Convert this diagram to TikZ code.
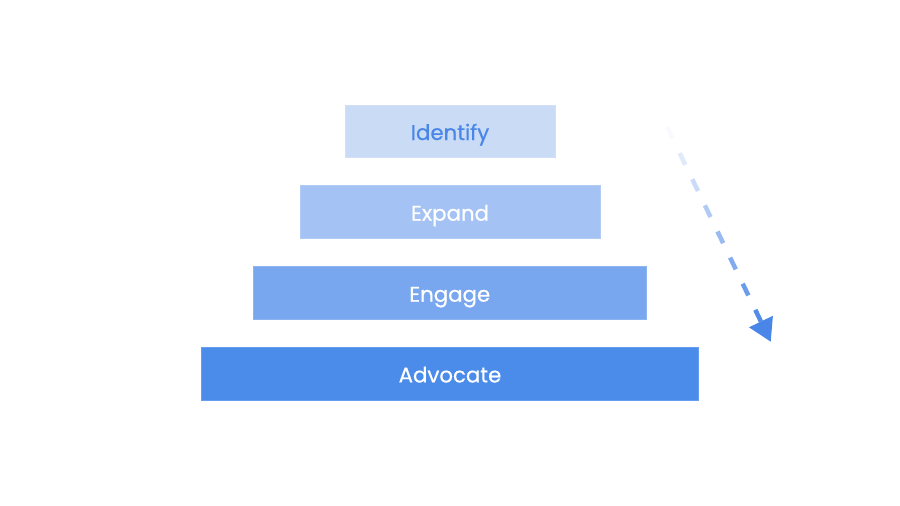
\documentclass[tikz,border=0pt]{standalone}
\usepackage{fontspec}
\setmainfont{Poppins}
\newfontfamily\tierfont{Poppins}[FakeBold=0.6]
\usetikzlibrary{calc}
\definecolor{cIdentify}{HTML}{CADBF6}
\definecolor{cExpand}{HTML}{A4C2F3}
\definecolor{cEngage}{HTML}{78A7EF}
\definecolor{cAdvocate}{HTML}{4B8CEB}
\definecolor{arrowblue}{HTML}{4A86E8}
\definecolor{textblue}{HTML}{4A86E8}
\begin{document}
\begin{tikzpicture}[x=1pt,y=-1pt,
  tier/.style={minimum height=52.7pt, inner sep=0pt, draw=#1!85!white, fill=#1, line width=0.6pt,
    font=\tierfont\fontsize{21.3}{24}\selectfont, text=white, text height=17.4pt, text depth=0pt},
  dashseg/.style={line width=4.5pt, line cap=butt}]
\useasboundingbox (0,0) rectangle (900,506);
\node[tier=cIdentify, minimum width=210pt, text=textblue] (identify) at (450,131.3) {Identify};
\node[tier=cExpand, minimum width=300pt] (expand) at (450,212) {Expand};
\node[tier=cEngage, minimum width=392.7pt] (engage) at (449.7,293) {Engage};
\node[tier=cAdvocate, minimum width=496.6pt] (advocate) at (450,373.7) {Advocate};
% dashed fading arrow
\coordinate (S) at (667.1,127);
\coordinate (T) at (770.7,341.7);
\foreach \k in {0,...,7}{
  \pgfmathsetmacro\da{\k*29}
  \pgfmathsetmacro\db{\k*29+13}
  \pgfmathsetmacro\dp{4+91*\k/7}
  \draw[dashseg, draw=arrowblue!\dp!white] ($(S)!\da pt!(T)$) -- ($(S)!\db pt!(T)$);
}
\coordinate (B) at ($(S)!216pt!(T)$);
\fill[arrowblue] (T) -- ($(B)!13.25pt!90:(T)$) -- ($(B)!13.25pt!-90:(T)$) -- cycle;
\end{tikzpicture}
\end{document}
